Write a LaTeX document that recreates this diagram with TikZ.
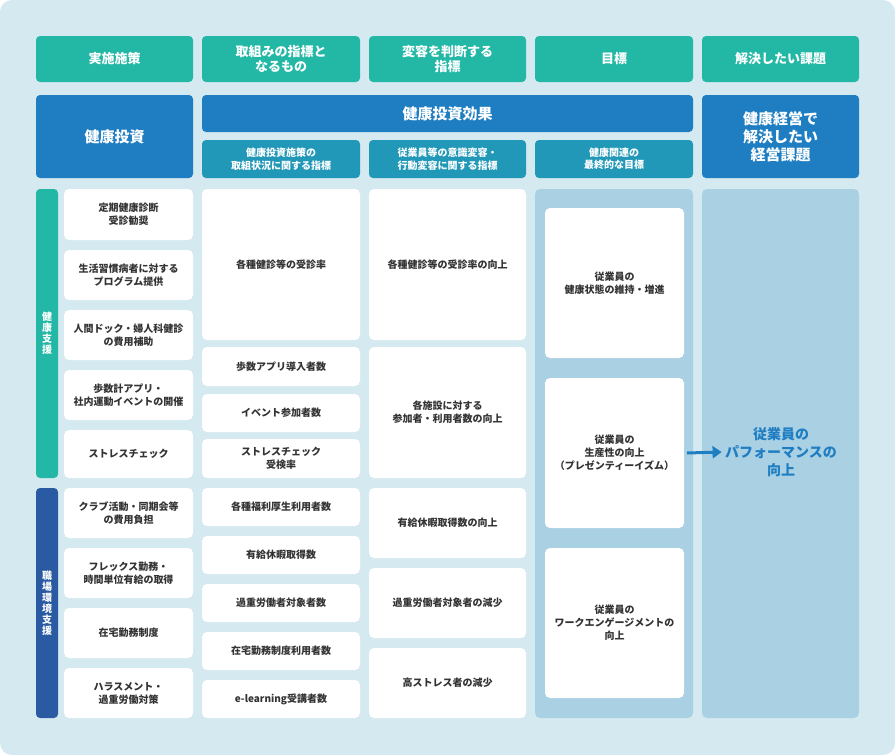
\documentclass[tikz,border=0pt]{standalone}
\usepackage{fontspec}
\setmainfont{Noto Sans CJK JP}
\usetikzlibrary{arrows.meta}
\definecolor{bgc}{HTML}{D5E9F1}
\definecolor{teal1}{HTML}{22B8A5}
\definecolor{blue1}{HTML}{1F7EC1}
\definecolor{sub1}{HTML}{2298B8}
\definecolor{dblue}{HTML}{2A5BA2}
\definecolor{colbg}{HTML}{A9D0E3}
\definecolor{txt}{HTML}{333333}
\begin{document}
\begin{tikzpicture}[x=1pt,y=-1pt,
 hd/.style={fill=teal1,rounded corners=4pt,text=white,font=\fontsize{13}{15}\selectfont\bfseries,align=center},
 bh/.style={fill=blue1,rounded corners=4pt,text=white,font=\fontsize{15}{18}\selectfont\bfseries,align=center},
 sh/.style={fill=sub1,rounded corners=4pt,text=white,font=\fontsize{10}{12.5}\selectfont\bfseries,align=center},
 wb/.style={fill=white,rounded corners=5pt,text=txt,font=\fontsize{10}{13}\selectfont\bfseries,align=center},
 cb/.style={fill=colbg,rounded corners=5pt},
 side/.style={rounded corners=4pt,text=white,font=\fontsize{10}{11}\selectfont\bfseries,align=center}]
\fill[bgc,rounded corners=12pt] (0,0) rectangle (895,755);
\useasboundingbox (0,0) rectangle (895,755);
\newcommand{\bx}[6]{\path[#1] (#2,#3) rectangle (#4,#5); \node[#1,fill=none,draw=none] (n#2x#3) at ({(#2+#4)/2},{(#3+#5)/2}) {#6};}
% headers
\bx{hd}{36}{36}{193}{82}{実施施策}
\bx{hd}{202}{36}{360}{82}{取組みの指標と\\なるもの}
\bx{hd}{369}{36}{526}{82}{変容を判断する\\指標}
\bx{hd}{535}{36}{693}{82}{目標}
\bx{hd}{702}{36}{859}{82}{解決したい課題}
\bx{bh}{36}{95}{193}{178}{健康投資}
\bx{bh}{202}{95}{693}{132}{健康投資効果}
\bx{bh}{702}{95}{859}{178}{健康経営で\\解決したい\\経営課題}
\bx{sh}{202}{140}{360}{178}{健康投資施策の\\取組状況に関する指標}
\bx{sh}{369}{140}{526}{178}{従業員等の意識変容・\\行動変容に関する指標}
\bx{sh}{535}{140}{693}{178}{健康関連の\\最終的な目標}
% side bars
\bx{side,fill=teal1}{36}{189}{58}{478}{健\\康\\支\\援}
\bx{side,fill=dblue}{36}{488}{58}{718}{職\\場\\環\\境\\支\\援}
% column 1
\bx{wb}{64}{189}{193}{240}{定期健康診断\\受診勧奨}
\bx{wb}{64}{250}{193}{300}{生活習慣病者に対する\\プログラム提供}
\bx{wb}{64}{310}{193}{360}{人間ドック・婦人科健診\\の費用補助}
\bx{wb}{64}{370}{193}{420}{歩数計アプリ・\\社内運動イベントの開催}
\bx{wb}{64}{430}{193}{478}{ストレスチェック}
\bx{wb}{64}{488}{193}{538}{クラブ活動・同期会等\\の費用負担}
\bx{wb}{64}{548}{193}{598}{フレックス勤務・\\時間単位有給の取得}
\bx{wb}{64}{608}{193}{658}{在宅勤務制度}
\bx{wb}{64}{668}{193}{718}{ハラスメント・\\過重労働対策}
% column 2
\bx{wb}{202}{189}{360}{340}{各種健診等の受診率}
\bx{wb}{202}{347}{360}{386}{歩数アプリ導入者数}
\bx{wb}{202}{394}{360}{432}{イベント参加者数}
\bx{wb}{202}{439}{360}{478}{ストレスチェック\\受検率}
\bx{wb}{202}{488}{360}{526}{各種福利厚生利用者数}
\bx{wb}{202}{536}{360}{574}{有給休暇取得数}
\bx{wb}{202}{584}{360}{622}{過重労働者対象者数}
\bx{wb}{202}{632}{360}{670}{在宅勤務制度利用者数}
\bx{wb}{202}{680}{360}{718}{e-learning受講者数}
% column 3
\bx{wb}{369}{189}{526}{340}{各種健診等の受診率の向上}
\bx{wb}{369}{347}{526}{478}{各施設に対する\\参加者・利用者数の向上}
\bx{wb}{369}{488}{526}{558}{有給休暇取得数の向上}
\bx{wb}{369}{568}{526}{638}{過重労働者対象者の減少}
\bx{wb}{369}{648}{526}{718}{高ストレス者の減少}
% column 4
\path[cb] (535,189) rectangle (693,718);
\bx{wb}{545}{208}{684}{358}{従業員の\\健康状態の維持・増進}
\bx{wb}{545}{378}{684}{528}{従業員の\\生産性の向上\\（プレゼンティーイズム）}
\bx{wb}{545}{548}{684}{698}{従業員の\\ワークエンゲージメントの\\向上}
% column 5
\path[cb] (702,189) rectangle (859,718);
\node[text=blue1,font=\fontsize{14}{18}\selectfont\bfseries,align=center] (goal) at (781,452) {従業員の\\パフォーマンスの\\向上};
\coordinate (as) at (687,453);
\draw[blue1,line width=3pt,-{Triangle[length=9pt,width=12pt]}] (as) -- (goal.west);
\end{tikzpicture}
\end{document}
